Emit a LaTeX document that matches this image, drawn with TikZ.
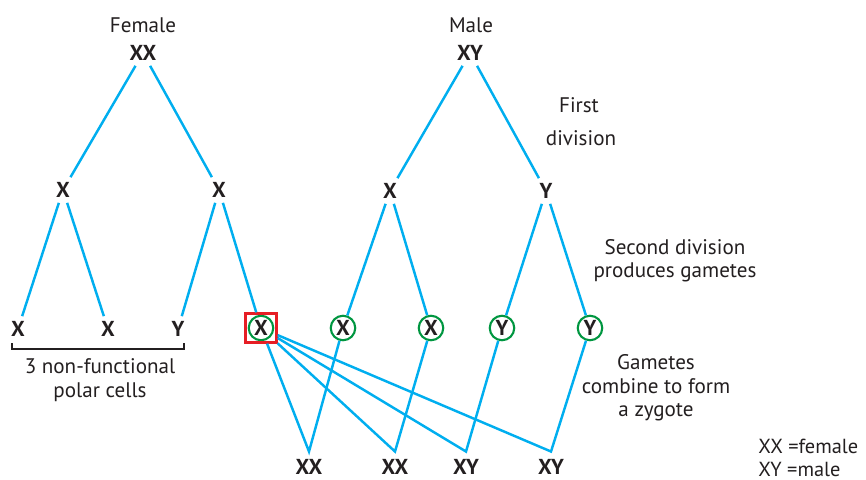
\documentclass[tikz,border=0pt]{standalone}
\usepackage{fontspec}
\setmainfont{PT Sans}
\usetikzlibrary{positioning}
\definecolor{ink}{RGB}{35,31,32}
\definecolor{lineblue}{RGB}{0,174,239}
\definecolor{gamgreen}{RGB}{0,150,64}
\definecolor{boxred}{RGB}{230,30,37}

\begin{document}
\begin{tikzpicture}[x=0.02cm, y=-0.02cm,
		every node/.style={text=ink, font=\fontsize{12}{13.3}\selectfont},
		chrom/.style={font=\bfseries\fontsize{12.3}{14}\selectfont, inner sep=2.8pt},
		gamete/.style={chrom, draw=gamgreen, circle, line width=1.2pt, inner sep=0pt, minimum size=0.49cm},
		redbox/.style={draw=boxred, line width=1.3pt, minimum width=0.62cm, minimum height=0.58cm},
		zyg/.style={chrom, inner xsep=2pt, inner ysep=4.3pt},
		link/.style={lineblue, line width=1.4pt}]
		\useasboundingbox (0,0) rectangle (866,480);
		\node (female)at(143,25) {Female};
		\node[chrom] (xx)at(143,53) {XX};
		\node (male)at(471,25) {Male};
		\node[chrom] (xy)at(470,53) {XY};
		\node[chrom] (fa)at(63,190) {X};
		\node[chrom] (fb)at(219,190) {X};
		\node[chrom] (ma)at(390,191) {X};
		\node[chrom] (mb)at(546,191) {Y};
		\node[chrom] (p1)at(18,329) {X};
		\node[chrom] (p2)at(108,329) {X};
		\node[chrom] (p3)at(178,329) {Y};
		\node[gamete] (g1)at(261,328) {X};
		\node[redbox] (ov)at(261,328) {};
		\node[gamete] (g2)at(343,328) {X};
		\node[gamete] (g3)at(431,328) {X};
		\node[gamete] (g4)at(502,328) {Y};
		\node[gamete] (g5)at(590,328) {Y};
		\node[zyg] (z1)at(309,467) {XX};
		\node[zyg] (z2)at(395,467) {XX};
		\node[zyg] (z3)at(466,467) {XY};
		\node[zyg] (z4)at(551,467) {XY};
		\node[align=center] (polar)at(100,380) {3 non-functional\\polar cells};
		\node (first)at(579,105) {First};
		\node (div)at(581,138) {division};
		\node[align=center] (second)at(675,261) {Second division\\produces gametes};
		\node[align=center] (combine)at(656,388) {Gametes\\combine to form\\a zygote};
		\node[anchor=west, align=left, inner sep=0pt, font=\fontsize{11.6}{13}\selectfont] (key)at(758,458) {XX =female\\XY =male};
		% first division
		\draw[link] (xx) -- (fa);
		\draw[link] (xx) -- (fb);
		\draw[link] (xy) -- (ma);
		\draw[link] (xy) -- (mb);
		% second division
		\draw[link] (fa) -- (p1);
		\draw[link] (fa) -- (p2);
		\draw[link] (fb) -- (p3);
		\draw[link] (fb) -- (ov);
		\draw[link] (ma) -- (g2);
		\draw[link] (ma) -- (g3);
		\draw[link] (mb) -- (g4);
		\draw[link] (mb) -- (g5);
		% fertilisation
		\draw[link] (ov) -- (z1.north) -- (g2);
		\draw[link] (ov) -- (z2.north) -- (g3);
		\draw[link] (ov) -- (z3.north) -- (g4);
		\draw[link] (ov) -- (z4.north) -- (g5);
		\draw[ink, line width=1.2pt] (12,343) -- (12,349) -- (184,349) -- (184,343);
	\end{tikzpicture}
\end{document}
